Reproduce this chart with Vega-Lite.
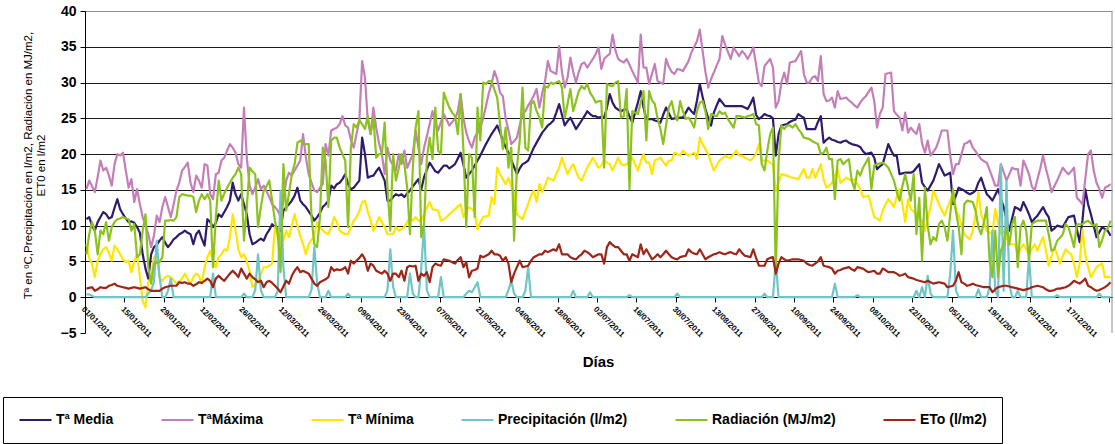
{
"$schema":"https://vega.github.io/schema/vega-lite/v6.json",
"width":1027,"height":322,
"autosize":{"type":"none"},
"padding":{"left":85,"top":11,"right":3,"bottom":111},
"background":"white",
"config":{"font":"Liberation Sans","view":{"stroke":null},"line":{"strokeWidth":2.2,"strokeJoin":"round"}},
"data":{"values":[
{"i":1,"a":10.9,"b":15.1,"c":7.4,"p":0.4,"r":6,"e":1.2},
{"i":2,"a":11.2,"b":16.3,"c":5.5,"p":0.4,"r":8.8,"e":1.3},
{"i":3,"a":10,"b":15.5,"c":4.6,"p":0.2,"r":10.5,"e":1.4},
{"i":4,"a":9.3,"b":14.7,"c":2.8,"p":0,"r":9.3,"e":0.9},
{"i":5,"a":10.5,"b":16.8,"c":5.1,"p":0,"r":6,"e":1.1},
{"i":6,"a":11.2,"b":19.1,"c":6,"p":0,"r":9.3,"e":1.4},
{"i":7,"a":11.9,"b":17.7,"c":6.7,"p":0,"r":8.8,"e":1.3},
{"i":8,"a":11.6,"b":18.1,"c":7,"p":0,"r":10.5,"e":1.3},
{"i":9,"a":11,"b":17,"c":6.2,"p":0,"r":7.9,"e":1.6},
{"i":10,"a":11.2,"b":15.6,"c":5.1,"p":0,"r":9.8,"e":1.7},
{"i":11,"a":12.5,"b":18.6,"c":7.2,"p":0,"r":10.5,"e":1.9},
{"i":12,"a":13.7,"b":20,"c":6.7,"p":0,"r":10.9,"e":1.6},
{"i":13,"a":12.3,"b":19.8,"c":6,"p":0,"r":11,"e":1.5},
{"i":14,"a":11.6,"b":20.2,"c":5.3,"p":0,"r":11.2,"e":1.4},
{"i":15,"a":11,"b":17.7,"c":4.9,"p":0,"r":11,"e":1.3},
{"i":16,"a":10.5,"b":15.3,"c":5.1,"p":0,"r":10.9,"e":1.2},
{"i":17,"a":10.6,"b":16.5,"c":3.5,"p":0,"r":9.3,"e":1.3},
{"i":18,"a":10.4,"b":13.3,"c":5,"p":0,"r":10.2,"e":1.4},
{"i":19,"a":9.8,"b":15.1,"c":6,"p":0,"r":5.6,"e":1.3},
{"i":20,"a":9,"b":13,"c":2.8,"p":0,"r":6,"e":1.2},
{"i":21,"a":6,"b":11.2,"c":-0.5,"p":0,"r":9.3,"e":1.3},
{"i":22,"a":4,"b":10,"c":-1.4,"p":0,"r":11.6,"e":1.4},
{"i":23,"a":2.6,"b":8.8,"c":2.1,"p":0.5,"r":4.2,"e":1.1},
{"i":24,"a":6,"b":7,"c":2.8,"p":1,"r":1.9,"e":0.9},
{"i":25,"a":7,"b":8.6,"c":5.6,"p":2.1,"r":4.7,"e":0.9},
{"i":26,"a":7.3,"b":11.4,"c":5.8,"p":7.9,"r":4.8,"e":0.9},
{"i":27,"a":7.9,"b":10.5,"c":2.8,"p":2.8,"r":4.9,"e":0.9},
{"i":28,"a":8.4,"b":12.6,"c":2.3,"p":0,"r":5.6,"e":1.2},
{"i":29,"a":7.6,"b":14,"c":2.8,"p":0,"r":10.7,"e":1.4},
{"i":30,"a":7,"b":12.6,"c":3,"p":0.9,"r":10.7,"e":1.5},
{"i":31,"a":7.5,"b":11.2,"c":2.8,"p":2.6,"r":10.8,"e":1.6},
{"i":32,"a":8.1,"b":13,"c":2.4,"p":0,"r":10.7,"e":1.6},
{"i":33,"a":8.4,"b":14.9,"c":1.9,"p":0,"r":11.2,"e":1.6},
{"i":34,"a":8.8,"b":16,"c":2.2,"p":0,"r":14,"e":2.1},
{"i":35,"a":9,"b":17.7,"c":2.6,"p":0,"r":14.4,"e":2},
{"i":36,"a":9.3,"b":18.2,"c":3.3,"p":0,"r":14.3,"e":2.1},
{"i":37,"a":9,"b":18.8,"c":2.5,"p":0,"r":14.2,"e":1.9},
{"i":38,"a":8.8,"b":16,"c":1.9,"p":0,"r":14.2,"e":1.9},
{"i":39,"a":7.4,"b":14.7,"c":2.8,"p":0,"r":14,"e":1.6},
{"i":40,"a":8.8,"b":17,"c":3.3,"p":0,"r":11.9,"e":1.8},
{"i":41,"a":9.3,"b":16.3,"c":3,"p":0,"r":13.5,"e":2.1},
{"i":42,"a":8.2,"b":15.3,"c":1.9,"p":0,"r":14.4,"e":2},
{"i":43,"a":7.2,"b":18.6,"c":4.2,"p":0,"r":13.7,"e":2.3},
{"i":44,"a":10.9,"b":18.4,"c":5.6,"p":0,"r":14.4,"e":2.6},
{"i":45,"a":10.5,"b":14.4,"c":6.5,"p":0,"r":13.5,"e":2.3},
{"i":46,"a":9.8,"b":13.7,"c":5,"p":3.3,"r":4.2,"e":1.4},
{"i":47,"a":10.4,"b":17.2,"c":4.2,"p":0,"r":11.2,"e":2.6},
{"i":48,"a":11.6,"b":17.4,"c":5.6,"p":0,"r":16.3,"e":3},
{"i":49,"a":11.2,"b":19.1,"c":6,"p":0,"r":13.5,"e":2.6},
{"i":50,"a":11.9,"b":19.5,"c":6.7,"p":0,"r":14.5,"e":2.3},
{"i":51,"a":12.6,"b":20.5,"c":6.5,"p":0,"r":15.3,"e":2.8},
{"i":52,"a":13.5,"b":21.4,"c":8.4,"p":0,"r":16,"e":3.3},
{"i":53,"a":16,"b":20.9,"c":11.6,"p":0,"r":16.7,"e":3.7},
{"i":54,"a":14.4,"b":20.2,"c":9.3,"p":0,"r":17.2,"e":3.3},
{"i":55,"a":13.5,"b":18.6,"c":6.7,"p":0,"r":18.1,"e":2.8},
{"i":56,"a":14.4,"b":18.1,"c":5.6,"p":0,"r":17.2,"e":4},
{"i":57,"a":13,"b":26.5,"c":6,"p":0.5,"r":7.9,"e":3.3},
{"i":58,"a":11.6,"b":19.5,"c":5,"p":0,"r":12.6,"e":2.6},
{"i":59,"a":8.8,"b":15.6,"c":3.7,"p":0,"r":18.1,"e":3.3},
{"i":60,"a":7.4,"b":14.4,"c":1.4,"p":0,"r":17.6,"e":2.8},
{"i":61,"a":7.6,"b":15.3,"c":1.8,"p":1,"r":17.2,"e":2.5},
{"i":62,"a":7.9,"b":16.5,"c":2.3,"p":6,"r":9.8,"e":2.1},
{"i":63,"a":8.2,"b":15.1,"c":3.2,"p":1,"r":12.6,"e":2.3},
{"i":64,"a":7.9,"b":15.6,"c":4.2,"p":0,"r":14.9,"e":1.4},
{"i":65,"a":8.8,"b":14.8,"c":4.2,"p":0,"r":15.5,"e":2.1},
{"i":66,"a":9.4,"b":14,"c":4.4,"p":0,"r":16.3,"e":2.3},
{"i":67,"a":10.2,"b":13,"c":4.7,"p":0,"r":13.5,"e":2},
{"i":68,"a":9.8,"b":12.6,"c":9.8,"p":0,"r":10.7,"e":1.6},
{"i":69,"a":9.5,"b":12.1,"c":8.4,"p":0.9,"r":8.8,"e":1.2},
{"i":70,"a":9.3,"b":11.2,"c":10.7,"p":14.9,"r":3.5,"e":0.7},
{"i":71,"a":12.1,"b":13.5,"c":7.9,"p":4.2,"r":18.6,"e":1.5},
{"i":72,"a":12.6,"b":16.3,"c":9.3,"p":0,"r":12.1,"e":2.3},
{"i":73,"a":13,"b":17.4,"c":8.4,"p":0,"r":14.5,"e":1.9},
{"i":74,"a":13.5,"b":17,"c":10,"p":0,"r":17.2,"e":3},
{"i":75,"a":14.2,"b":17.7,"c":11.6,"p":0,"r":18.6,"e":3.7},
{"i":76,"a":15.3,"b":18.4,"c":10,"p":0,"r":21.6,"e":4.2},
{"i":77,"a":13.5,"b":19.1,"c":8.6,"p":0,"r":21.9,"e":3.5},
{"i":78,"a":13,"b":22.8,"c":7.4,"p":0,"r":21.4,"e":3.7},
{"i":79,"a":12.6,"b":19.5,"c":6,"p":0,"r":21.4,"e":3.5},
{"i":80,"a":12,"b":17.2,"c":7.4,"p":0,"r":21.4,"e":3.3},
{"i":81,"a":11.4,"b":16,"c":8,"p":1,"r":11.2,"e":2.6},
{"i":82,"a":10.7,"b":14.9,"c":8.6,"p":7,"r":7.4,"e":1.9},
{"i":83,"a":11.2,"b":14.7,"c":10.5,"p":2,"r":7,"e":1.6},
{"i":84,"a":11.8,"b":15.3,"c":9.8,"p":0,"r":11.2,"e":2.1},
{"i":85,"a":12.6,"b":15.8,"c":9.3,"p":0,"r":20.9,"e":2.3},
{"i":86,"a":13,"b":21.4,"c":9,"p":0,"r":19.1,"e":2.5},
{"i":87,"a":13.5,"b":19.8,"c":8.8,"p":0.9,"r":12.6,"e":2.8},
{"i":88,"a":15.6,"b":23.3,"c":9.8,"p":0,"r":21.9,"e":4.2},
{"i":89,"a":15.2,"b":23.5,"c":11.2,"p":0,"r":22.3,"e":3.7},
{"i":90,"a":15.8,"b":23.7,"c":10.5,"p":0,"r":22.3,"e":3.9},
{"i":91,"a":16,"b":24.2,"c":9.3,"p":0,"r":20.9,"e":3.8},
{"i":92,"a":16.5,"b":25.3,"c":9,"p":0,"r":20,"e":3.9},
{"i":93,"a":17.2,"b":24,"c":8.8,"p":0,"r":19.1,"e":4.2},
{"i":94,"a":15.8,"b":23.7,"c":8.8,"p":0.5,"r":9.8,"e":3.3},
{"i":95,"a":15.1,"b":22,"c":9.8,"p":0,"r":20.9,"e":5.1},
{"i":96,"a":15.3,"b":20.9,"c":10.7,"p":0,"r":24.2,"e":4.7},
{"i":97,"a":15.8,"b":22.8,"c":11.2,"p":0,"r":23.7,"e":5.1},
{"i":98,"a":16.3,"b":24.7,"c":12,"p":0,"r":24.7,"e":5.5},
{"i":99,"a":22.3,"b":33,"c":13.3,"p":0,"r":24.2,"e":6},
{"i":100,"a":20,"b":30.7,"c":13.5,"p":0,"r":23.5,"e":5.3},
{"i":101,"a":16.7,"b":24.7,"c":12,"p":0,"r":25.3,"e":3.7},
{"i":102,"a":16.9,"b":22.8,"c":10.7,"p":0,"r":22.8,"e":4.7},
{"i":103,"a":17,"b":26.5,"c":9.3,"p":0,"r":25.1,"e":4.4},
{"i":104,"a":17.6,"b":23.7,"c":10.2,"p":0,"r":19.5,"e":3.7},
{"i":105,"a":18.1,"b":21.5,"c":11.2,"p":0,"r":20,"e":3.5},
{"i":106,"a":17.2,"b":20,"c":10.5,"p":0,"r":20,"e":3.3},
{"i":107,"a":16.3,"b":17.2,"c":9.8,"p":0,"r":24.4,"e":3.7},
{"i":108,"a":13.5,"b":20.9,"c":8.8,"p":1,"r":15.3,"e":3.3},
{"i":109,"a":13.5,"b":19.1,"c":8.8,"p":6.7,"r":9.3,"e":2.3},
{"i":110,"a":14,"b":18.5,"c":8.8,"p":1.5,"r":20,"e":3.3},
{"i":111,"a":14.4,"b":17.7,"c":9.8,"p":0,"r":16.3,"e":3.3},
{"i":112,"a":14.2,"b":20,"c":9.3,"p":0,"r":18,"e":2.8},
{"i":113,"a":14.4,"b":18.6,"c":9.5,"p":0,"r":20,"e":3.7},
{"i":114,"a":14,"b":20.5,"c":9.8,"p":0,"r":18.6,"e":2.3},
{"i":115,"a":14.5,"b":18.1,"c":10.5,"p":0,"r":15.3,"e":4.2},
{"i":116,"a":14.9,"b":19,"c":11.2,"p":3.3,"r":8.8,"e":4.4},
{"i":117,"a":15.5,"b":20,"c":10.7,"p":0.5,"r":18.1,"e":4.3},
{"i":118,"a":16,"b":23.3,"c":11.2,"p":0,"r":23.7,"e":4.4},
{"i":119,"a":16.5,"b":20.9,"c":10.7,"p":0,"r":26,"e":2.3},
{"i":120,"a":15,"b":18.6,"c":10.7,"p":4,"r":8.4,"e":3.3},
{"i":121,"a":16.8,"b":20.9,"c":11.6,"p":10,"r":10.2,"e":3},
{"i":122,"a":17.8,"b":22.5,"c":12.5,"p":1,"r":19.5,"e":3.5},
{"i":123,"a":18.8,"b":24.2,"c":13.3,"p":0,"r":22.3,"e":2.1},
{"i":124,"a":18.2,"b":26,"c":12.3,"p":0,"r":19.3,"e":4.2},
{"i":125,"a":17.6,"b":24.5,"c":12.2,"p":0,"r":26.5,"e":4.7},
{"i":126,"a":17.4,"b":23.3,"c":12.1,"p":0,"r":20.5,"e":4.5},
{"i":127,"a":17.9,"b":24.5,"c":10.7,"p":2.8,"r":20,"e":4.4},
{"i":128,"a":18.4,"b":25.6,"c":10.9,"p":0,"r":28.6,"e":5.3},
{"i":129,"a":18.4,"b":24.8,"c":11.2,"p":0,"r":27.5,"e":5.2},
{"i":130,"a":18,"b":24,"c":11.6,"p":0,"r":26.5,"e":5.1},
{"i":131,"a":18.3,"b":24.5,"c":12,"p":0,"r":25.8,"e":4.9},
{"i":132,"a":18.6,"b":24.9,"c":12.3,"p":0,"r":25.3,"e":4.7},
{"i":133,"a":19.4,"b":26,"c":12.7,"p":0,"r":22.8,"e":5.2},
{"i":134,"a":20.2,"b":28.4,"c":13,"p":0,"r":28.4,"e":5.6},
{"i":135,"a":18.5,"b":25,"c":11.2,"p":0,"r":20.5,"e":4.2},
{"i":136,"a":16.7,"b":23,"c":12,"p":0.5,"r":9.8,"e":4.9},
{"i":137,"a":17.2,"b":21.8,"c":12.6,"p":0.9,"r":20,"e":2.8},
{"i":138,"a":17.7,"b":20.9,"c":12.3,"p":0.7,"r":19.5,"e":3.7},
{"i":139,"a":18.4,"b":22.3,"c":11.9,"p":1.4,"r":11.2,"e":3.8},
{"i":140,"a":19.1,"b":23,"c":9.5,"p":2.1,"r":26.5,"e":4},
{"i":141,"a":19.8,"b":23.7,"c":10.5,"p":0,"r":21.9,"e":5.8},
{"i":142,"a":20.6,"b":25,"c":11.2,"p":0,"r":30,"e":5.6},
{"i":143,"a":21.4,"b":26.7,"c":11.3,"p":0,"r":29.8,"e":5.8},
{"i":144,"a":22.1,"b":28.5,"c":11.4,"p":0,"r":30.2,"e":6},
{"i":145,"a":22.8,"b":29.8,"c":14,"p":0,"r":30.2,"e":6.5},
{"i":146,"a":23.4,"b":31.6,"c":13,"p":0,"r":29,"e":6},
{"i":147,"a":24,"b":30.5,"c":18.1,"p":0,"r":27.9,"e":6},
{"i":148,"a":23,"b":28.6,"c":17.2,"p":0,"r":24.2,"e":5.8},
{"i":149,"a":21.9,"b":28.1,"c":16.5,"p":0,"r":20.7,"e":5.1},
{"i":150,"a":21,"b":25,"c":15.8,"p":0,"r":23.7,"e":5.6},
{"i":151,"a":20.2,"b":23.3,"c":16.7,"p":1,"r":18.1,"e":4.7},
{"i":152,"a":19.2,"b":21.4,"c":15.5,"p":2.3,"r":20.9,"e":2.1},
{"i":153,"a":18.2,"b":21.8,"c":14.4,"p":0.5,"r":7.9,"e":3.3},
{"i":154,"a":17.2,"b":22.3,"c":11.6,"p":0,"r":18.1,"e":4.2},
{"i":155,"a":18,"b":24,"c":11.2,"p":0,"r":21.9,"e":5.1},
{"i":156,"a":18.6,"b":25.6,"c":10.9,"p":0,"r":29.3,"e":4.2},
{"i":157,"a":18.8,"b":26,"c":12,"p":0.9,"r":20.9,"e":4.3},
{"i":158,"a":19.1,"b":26.8,"c":13,"p":4.2,"r":20.5,"e":4.4},
{"i":159,"a":20,"b":27.4,"c":14.2,"p":0,"r":27,"e":5.1},
{"i":160,"a":20.9,"b":28.2,"c":14.9,"p":0,"r":27.4,"e":5.6},
{"i":161,"a":21.6,"b":29.1,"c":13.3,"p":0,"r":26,"e":5.8},
{"i":162,"a":22.3,"b":26.5,"c":15.8,"p":0,"r":25.1,"e":6},
{"i":163,"a":23,"b":28.5,"c":14.7,"p":0,"r":23.7,"e":6},
{"i":164,"a":23.5,"b":30.2,"c":15.6,"p":0,"r":29.5,"e":6.5},
{"i":165,"a":24,"b":33,"c":16.7,"p":0,"r":29.3,"e":6.3},
{"i":166,"a":24.3,"b":31.6,"c":16.5,"p":0,"r":30,"e":6.5},
{"i":167,"a":24.7,"b":31.4,"c":16.3,"p":0,"r":29.8,"e":6.7},
{"i":168,"a":25.8,"b":31.2,"c":17.2,"p":0,"r":30,"e":6.5},
{"i":169,"a":27,"b":35.1,"c":18.1,"p":0,"r":30.2,"e":7.4},
{"i":170,"a":25.5,"b":31.5,"c":19.5,"p":0,"r":29.3,"e":6},
{"i":171,"a":24,"b":29.3,"c":18.3,"p":0,"r":25.1,"e":6},
{"i":172,"a":24.6,"b":30.7,"c":17.2,"p":0,"r":27,"e":6},
{"i":173,"a":25.1,"b":33.5,"c":18,"p":0,"r":29.1,"e":5.6},
{"i":174,"a":24.3,"b":31.5,"c":18.6,"p":0.9,"r":26,"e":5.4},
{"i":175,"a":23.5,"b":30,"c":17.6,"p":0,"r":27.4,"e":5.3},
{"i":176,"a":24.1,"b":31.5,"c":16.7,"p":0,"r":28.8,"e":5.7},
{"i":177,"a":24.7,"b":32.6,"c":16.3,"p":0,"r":29.5,"e":6},
{"i":178,"a":25.3,"b":32.8,"c":17.2,"p":0,"r":29.1,"e":6.5},
{"i":179,"a":26,"b":32.1,"c":18.1,"p":0,"r":29.8,"e":6.3},
{"i":180,"a":25.6,"b":32.7,"c":18.8,"p":0.7,"r":28.6,"e":6},
{"i":181,"a":25.3,"b":33.3,"c":19.5,"p":0,"r":28,"e":5.6},
{"i":182,"a":25.3,"b":34,"c":18.8,"p":0,"r":27.2,"e":5.8},
{"i":183,"a":25.1,"b":34.9,"c":18.1,"p":0,"r":27.4,"e":6},
{"i":184,"a":25.2,"b":31.9,"c":18.4,"p":0,"r":27.4,"e":6},
{"i":185,"a":25.1,"b":33.3,"c":19.1,"p":0,"r":18.1,"e":4.7},
{"i":186,"a":26.5,"b":33.7,"c":18.8,"p":0,"r":29.8,"e":7},
{"i":187,"a":28.4,"b":34,"c":18.6,"p":0,"r":29.6,"e":7.7},
{"i":188,"a":27.2,"b":36.7,"c":17.7,"p":0,"r":29.5,"e":7.3},
{"i":189,"a":26.5,"b":34.5,"c":18.6,"p":0,"r":30,"e":7},
{"i":190,"a":26.2,"b":33.3,"c":19.5,"p":0,"r":30.2,"e":7},
{"i":191,"a":26,"b":33,"c":18.6,"p":0,"r":25.1,"e":6.5},
{"i":192,"a":26.2,"b":32.8,"c":18.4,"p":0,"r":25.3,"e":6},
{"i":193,"a":26.3,"b":33.3,"c":18.6,"p":0,"r":29.1,"e":6},
{"i":194,"a":25.3,"b":32.5,"c":19,"p":0.3,"r":15.1,"e":5.1},
{"i":195,"a":24.4,"b":31.6,"c":19.5,"p":0,"r":26,"e":6},
{"i":196,"a":25.8,"b":30.8,"c":18.6,"p":0,"r":25.8,"e":5.8},
{"i":197,"a":27.2,"b":30,"c":17.7,"p":0,"r":25.6,"e":5.6},
{"i":198,"a":28.8,"b":36.7,"c":19,"p":0,"r":27.2,"e":7.4},
{"i":199,"a":26.5,"b":32.1,"c":20,"p":0,"r":28.8,"e":6},
{"i":200,"a":24.9,"b":32.1,"c":18.8,"p":0,"r":21.9,"e":6.7},
{"i":201,"a":24.9,"b":29.8,"c":18.8,"p":0,"r":28.8,"e":6},
{"i":202,"a":24.9,"b":31.2,"c":17.2,"p":0,"r":27.5,"e":5.3},
{"i":203,"a":24.7,"b":32.6,"c":19.1,"p":0,"r":27,"e":5.6},
{"i":204,"a":24.6,"b":30.2,"c":19.3,"p":0,"r":25,"e":6},
{"i":205,"a":24.4,"b":30,"c":19.5,"p":0,"r":23.5,"e":5.6},
{"i":206,"a":25.5,"b":29.8,"c":18.9,"p":0,"r":21.4,"e":6},
{"i":207,"a":26.5,"b":33.3,"c":18.4,"p":0,"r":24,"e":6.5},
{"i":208,"a":25.7,"b":32.2,"c":19.1,"p":0,"r":26.5,"e":6},
{"i":209,"a":24.9,"b":31.5,"c":19.1,"p":0,"r":27.4,"e":5.6},
{"i":210,"a":25,"b":31.2,"c":20.2,"p":0,"r":25.6,"e":5.4},
{"i":211,"a":25,"b":31.9,"c":20,"p":0.5,"r":24.7,"e":5.3},
{"i":212,"a":25.1,"b":31.8,"c":19.8,"p":0,"r":27.4,"e":5.6},
{"i":213,"a":25.1,"b":31.6,"c":20.5,"p":0,"r":26,"e":5.7},
{"i":214,"a":25.8,"b":32.3,"c":20.1,"p":0,"r":24.9,"e":5.8},
{"i":215,"a":26.5,"b":33,"c":19.8,"p":0,"r":25.1,"e":6.7},
{"i":216,"a":26,"b":34.2,"c":20,"p":0,"r":24.5,"e":6.3},
{"i":217,"a":25.6,"b":35,"c":20.2,"p":0,"r":23.7,"e":6.1},
{"i":218,"a":27.5,"b":35.8,"c":19.3,"p":0,"r":26,"e":6},
{"i":219,"a":29.8,"b":37.4,"c":22.3,"p":0,"r":27.2,"e":6.7},
{"i":220,"a":28,"b":34.4,"c":21.4,"p":0,"r":27.4,"e":6},
{"i":221,"a":26.3,"b":31.5,"c":20.7,"p":0,"r":26,"e":5.3},
{"i":222,"a":25,"b":29.3,"c":20,"p":0,"r":23.5,"e":5.6},
{"i":223,"a":24,"b":30.5,"c":18.8,"p":0,"r":25.6,"e":5.8},
{"i":224,"a":25.8,"b":31.4,"c":17.7,"p":0,"r":25.4,"e":6},
{"i":225,"a":26.8,"b":32.4,"c":18.4,"p":0,"r":25.3,"e":6.1},
{"i":226,"a":27.7,"b":33.3,"c":19.1,"p":0,"r":26,"e":6.3},
{"i":227,"a":27.2,"b":36.5,"c":19.4,"p":0,"r":25.6,"e":6.1},
{"i":228,"a":26.7,"b":35.3,"c":19.8,"p":0,"r":25.8,"e":6},
{"i":229,"a":26.7,"b":34.3,"c":19.5,"p":0,"r":24.9,"e":6.2},
{"i":230,"a":26.7,"b":33.3,"c":19.5,"p":0,"r":24.3,"e":6.3},
{"i":231,"a":26.7,"b":34.9,"c":20,"p":0,"r":23.7,"e":6.1},
{"i":232,"a":26.7,"b":34.3,"c":20.5,"p":0,"r":25.3,"e":6},
{"i":233,"a":26.7,"b":33.7,"c":19.8,"p":0,"r":25.3,"e":6.7},
{"i":234,"a":26.7,"b":34.4,"c":19.8,"p":0,"r":25.2,"e":6.2},
{"i":235,"a":26.5,"b":34,"c":19.5,"p":0,"r":25.1,"e":5.8},
{"i":236,"a":26.3,"b":33.3,"c":19.3,"p":0,"r":25.3,"e":5.7},
{"i":237,"a":27,"b":34,"c":19.1,"p":0,"r":25.4,"e":5.6},
{"i":238,"a":27.9,"b":34.9,"c":19.5,"p":0,"r":25.6,"e":6.7},
{"i":239,"a":25.5,"b":32.5,"c":20,"p":0,"r":24.2,"e":5.5},
{"i":240,"a":24.9,"b":30,"c":21.4,"p":0,"r":24,"e":4.4},
{"i":241,"a":25.2,"b":29.5,"c":19.1,"p":0,"r":18.6,"e":4.4},
{"i":242,"a":25.6,"b":32.3,"c":19.1,"p":0.5,"r":17.7,"e":4.4},
{"i":243,"a":25.4,"b":32.8,"c":19.1,"p":0,"r":20.5,"e":5.3},
{"i":244,"a":25.3,"b":33.3,"c":18.8,"p":0,"r":22.8,"e":5.5},
{"i":245,"a":25,"b":32.1,"c":18.6,"p":0,"r":23.7,"e":5.6},
{"i":246,"a":19.8,"b":26.5,"c":14.9,"p":5,"r":3.3,"e":3.3},
{"i":247,"a":22.8,"b":27.4,"c":16,"p":0,"r":19.1,"e":4.7},
{"i":248,"a":24,"b":30,"c":17.2,"p":0,"r":24,"e":5.6},
{"i":249,"a":24.1,"b":31.4,"c":17.1,"p":0,"r":23.5,"e":5.3},
{"i":250,"a":24.2,"b":29.8,"c":17,"p":0,"r":24,"e":5.1},
{"i":251,"a":24.5,"b":32.8,"c":16.8,"p":0,"r":24,"e":5.2},
{"i":252,"a":24.7,"b":32.9,"c":16.7,"p":0,"r":23.7,"e":5.3},
{"i":253,"a":24.8,"b":33,"c":16.6,"p":0,"r":24.2,"e":5.3},
{"i":254,"a":25.6,"b":33.7,"c":16.5,"p":0,"r":23.5,"e":5.3},
{"i":255,"a":25.3,"b":34.4,"c":17.2,"p":0,"r":23,"e":5.2},
{"i":256,"a":25.1,"b":31.2,"c":17.9,"p":0,"r":22.3,"e":5.1},
{"i":257,"a":23.5,"b":30,"c":16.7,"p":0,"r":22.2,"e":4.7},
{"i":258,"a":23.5,"b":30,"c":16.7,"p":0,"r":22.1,"e":4.5},
{"i":259,"a":23.5,"b":30.7,"c":17.9,"p":0,"r":21.8,"e":4.4},
{"i":260,"a":23.5,"b":30.9,"c":16.7,"p":0,"r":21.6,"e":4.7},
{"i":261,"a":24.5,"b":30.2,"c":17.6,"p":0,"r":21.4,"e":5},
{"i":262,"a":25.3,"b":33.7,"c":18.6,"p":0,"r":20,"e":5.6},
{"i":263,"a":21.6,"b":28.4,"c":16.5,"p":0,"r":20.2,"e":4.4},
{"i":264,"a":22,"b":27.4,"c":15.3,"p":0,"r":20.9,"e":4.3},
{"i":265,"a":22.3,"b":27.5,"c":15.6,"p":0,"r":19.3,"e":4.2},
{"i":266,"a":22,"b":27.9,"c":16,"p":0,"r":19.3,"e":4},
{"i":267,"a":21.9,"b":26.5,"c":17,"p":1.9,"r":13.7,"e":3.3},
{"i":268,"a":21.7,"b":28.8,"c":17.9,"p":0,"r":19.1,"e":3.7},
{"i":269,"a":21.6,"b":27.7,"c":16,"p":0,"r":19.3,"e":3.8},
{"i":270,"a":21.8,"b":27.8,"c":16.3,"p":0,"r":18.6,"e":4},
{"i":271,"a":21.9,"b":27.9,"c":16.7,"p":0,"r":19,"e":4.1},
{"i":272,"a":21.6,"b":27.5,"c":16.5,"p":0,"r":19.3,"e":4.2},
{"i":273,"a":21.4,"b":27.2,"c":16.3,"p":0,"r":16.3,"e":3.9},
{"i":274,"a":21.3,"b":26.8,"c":16.5,"p":0,"r":15.1,"e":3.7},
{"i":275,"a":21.2,"b":26.5,"c":15.8,"p":0.3,"r":17.7,"e":4.2},
{"i":276,"a":21,"b":27.2,"c":15.1,"p":0,"r":17,"e":4.1},
{"i":277,"a":20.4,"b":27.7,"c":14,"p":0,"r":18.1,"e":4},
{"i":278,"a":20,"b":28.1,"c":14.1,"p":0,"r":18.8,"e":3.7},
{"i":279,"a":20.1,"b":28.7,"c":14.2,"p":0,"r":19.5,"e":3.5},
{"i":280,"a":20.2,"b":29.3,"c":12.7,"p":0,"r":15.1,"e":3.6},
{"i":281,"a":19.5,"b":27.4,"c":11.2,"p":0,"r":18.4,"e":3.7},
{"i":282,"a":17.9,"b":23.7,"c":11,"p":0,"r":18.6,"e":3.3},
{"i":283,"a":18.3,"b":25.6,"c":10.7,"p":0,"r":18.7,"e":3.3},
{"i":284,"a":18.6,"b":26.5,"c":12.1,"p":0,"r":18.8,"e":4},
{"i":285,"a":20,"b":31.2,"c":13,"p":0,"r":18.5,"e":3.8},
{"i":286,"a":21.4,"b":31.3,"c":13.7,"p":0,"r":18.1,"e":3.5},
{"i":287,"a":20.5,"b":31.4,"c":13.2,"p":0,"r":17.2,"e":3.5},
{"i":288,"a":19.8,"b":26,"c":12.6,"p":0,"r":16.3,"e":3.5},
{"i":289,"a":19.8,"b":25.5,"c":14,"p":0,"r":14.7,"e":3.3},
{"i":290,"a":17.2,"b":25.1,"c":15.1,"p":0,"r":13.5,"e":3},
{"i":291,"a":17.3,"b":23.3,"c":13,"p":0,"r":15.5,"e":3.1},
{"i":292,"a":17.4,"b":25.8,"c":10.5,"p":0,"r":17.2,"e":3.3},
{"i":293,"a":17.4,"b":23,"c":13.7,"p":0,"r":15.3,"e":2.8},
{"i":294,"a":17.4,"b":23.7,"c":12.3,"p":0,"r":13.5,"e":2.7},
{"i":295,"a":17.6,"b":23.2,"c":12,"p":0,"r":17.2,"e":2.6},
{"i":296,"a":18.1,"b":22.8,"c":11.6,"p":0.9,"r":8.8,"e":2.4},
{"i":297,"a":18.6,"b":24.2,"c":11.2,"p":0,"r":13.9,"e":2.3},
{"i":298,"a":16,"b":21.5,"c":10.7,"p":1.4,"r":5.1,"e":2.2},
{"i":299,"a":15.4,"b":20.2,"c":9.3,"p":0,"r":15.3,"e":2.1},
{"i":300,"a":14.9,"b":21.9,"c":11,"p":3,"r":10,"e":2.3},
{"i":301,"a":15.6,"b":19.8,"c":12.6,"p":0.5,"r":7.4,"e":2.1},
{"i":302,"a":16.3,"b":20.3,"c":14.9,"p":0,"r":8.4,"e":1.9},
{"i":303,"a":17.4,"b":20.9,"c":14,"p":0,"r":7.9,"e":2},
{"i":304,"a":18.6,"b":22,"c":13,"p":0,"r":10.2,"e":2.1},
{"i":305,"a":17.8,"b":23.3,"c":12.2,"p":0,"r":10.7,"e":2},
{"i":306,"a":17,"b":23.3,"c":11.4,"p":0,"r":9.8,"e":1.9},
{"i":307,"a":17.2,"b":23.3,"c":12.5,"p":0,"r":7.9,"e":1.4},
{"i":308,"a":17.4,"b":19.8,"c":13.5,"p":3.3,"r":11.6,"e":1.5},
{"i":309,"a":13,"b":17.2,"c":14.7,"p":9.3,"r":15.1,"e":1.6},
{"i":310,"a":14.2,"b":18.6,"c":12.3,"p":1,"r":12,"e":2.3},
{"i":311,"a":15.3,"b":18.6,"c":11.4,"p":0,"r":9.8,"e":3.5},
{"i":312,"a":15.1,"b":20,"c":10,"p":0,"r":6,"e":2.1},
{"i":313,"a":14.9,"b":21.4,"c":8.8,"p":0,"r":13,"e":1.9},
{"i":314,"a":14.6,"b":21.6,"c":8.4,"p":0,"r":13.5,"e":1.6},
{"i":315,"a":14.4,"b":21.9,"c":8.1,"p":0,"r":13.4,"e":1.7},
{"i":316,"a":14.6,"b":20.9,"c":9.3,"p":0,"r":13.3,"e":1.9},
{"i":317,"a":14.9,"b":20.4,"c":11.5,"p":0,"r":12.1,"e":1.7},
{"i":318,"a":16,"b":19.8,"c":14.7,"p":1.1,"r":9.8,"e":1.6},
{"i":319,"a":16.7,"b":19.3,"c":11.6,"p":0,"r":8.8,"e":1.5},
{"i":320,"a":15.5,"b":19,"c":10.5,"p":0,"r":10.5,"e":1.4},
{"i":321,"a":14.4,"b":18.8,"c":9.3,"p":0,"r":12.6,"e":1.4},
{"i":322,"a":14,"b":17.8,"c":9,"p":1.4,"r":5.1,"e":1.4},
{"i":323,"a":13.5,"b":16.7,"c":8.8,"p":9.3,"r":2.8,"e":0.7},
{"i":324,"a":14.3,"b":15.6,"c":12.3,"p":1,"r":9.3,"e":1.1},
{"i":325,"a":15.1,"b":15.6,"c":10.5,"p":0,"r":2.8,"e":1.4},
{"i":326,"a":13.8,"b":18.6,"c":8.8,"p":18.6,"r":6.5,"e":1.5},
{"i":327,"a":12.6,"b":17.5,"c":9.3,"p":0.9,"r":7.5,"e":1.6},
{"i":328,"a":10.9,"b":16.3,"c":8.3,"p":16.3,"r":9.8,"e":1.6},
{"i":329,"a":9.3,"b":17.2,"c":7.4,"p":1.9,"r":7.4,"e":1.5},
{"i":330,"a":11,"b":18.1,"c":7.4,"p":0,"r":10.2,"e":1.4},
{"i":331,"a":12.6,"b":17.9,"c":7.4,"p":0,"r":11.2,"e":1.3},
{"i":332,"a":12.4,"b":17.9,"c":6,"p":0.9,"r":4.2,"e":1.2},
{"i":333,"a":12.1,"b":15.6,"c":6.7,"p":0,"r":9.8,"e":1.1},
{"i":334,"a":13.3,"b":19.1,"c":7.4,"p":0,"r":10.7,"e":1},
{"i":335,"a":12.5,"b":18.2,"c":6.7,"p":0,"r":9.3,"e":1.1},
{"i":336,"a":11.6,"b":17.2,"c":6,"p":5.6,"r":5.1,"e":1.2},
{"i":337,"a":10.5,"b":15.5,"c":6.7,"p":0,"r":10.2,"e":1.4},
{"i":338,"a":11,"b":14.9,"c":7.4,"p":0,"r":10.5,"e":1.5},
{"i":339,"a":11.4,"b":16.5,"c":6.5,"p":0,"r":10.7,"e":1.6},
{"i":340,"a":12,"b":18,"c":7.5,"p":0,"r":10.7,"e":1.5},
{"i":341,"a":12.6,"b":19.8,"c":8.4,"p":0,"r":10.7,"e":1.4},
{"i":342,"a":11.8,"b":18,"c":6.5,"p":0,"r":10.7,"e":1.1},
{"i":343,"a":11.2,"b":16.5,"c":4.4,"p":0,"r":8.8,"e":0.9},
{"i":344,"a":9.3,"b":14.7,"c":5.7,"p":0,"r":6.5,"e":0.9},
{"i":345,"a":9.6,"b":15.5,"c":7,"p":0,"r":6.7,"e":1},
{"i":346,"a":10,"b":16.3,"c":6,"p":0.3,"r":7.9,"e":1.2},
{"i":347,"a":9.9,"b":17.2,"c":4.7,"p":0,"r":8.3,"e":1.2},
{"i":348,"a":9.8,"b":18.1,"c":5.7,"p":0,"r":8.8,"e":1.3},
{"i":349,"a":10.5,"b":17.6,"c":6.7,"p":0,"r":10.2,"e":1.4},
{"i":350,"a":11.2,"b":17.2,"c":6.3,"p":0,"r":9.8,"e":1.6},
{"i":351,"a":11.3,"b":17.6,"c":6,"p":0,"r":8.5,"e":1.9},
{"i":352,"a":11.4,"b":18.1,"c":4.7,"p":0,"r":7,"e":2.3},
{"i":353,"a":9.5,"b":13.9,"c":2.8,"p":0,"r":10.2,"e":2.1},
{"i":354,"a":7.7,"b":13.5,"c":4.7,"p":0,"r":10.2,"e":1.9},
{"i":355,"a":10.7,"b":13,"c":9.5,"p":0,"r":10.2,"e":2.2},
{"i":356,"a":15.1,"b":16.5,"c":6,"p":0,"r":10.5,"e":2.6},
{"i":357,"a":13,"b":20,"c":4.2,"p":0,"r":10.7,"e":1.6},
{"i":358,"a":11.6,"b":20.5,"c":2.8,"p":0,"r":10.3,"e":1.4},
{"i":359,"a":10,"b":17.7,"c":3.5,"p":0,"r":10,"e":1.1},
{"i":360,"a":8.4,"b":16,"c":4.2,"p":0,"r":10.2,"e":0.9},
{"i":361,"a":9.1,"b":15.1,"c":4.5,"p":0.5,"r":7,"e":1},
{"i":362,"a":9.8,"b":13.9,"c":4.7,"p":0,"r":8,"e":1.2},
{"i":363,"a":9.5,"b":15.3,"c":2.8,"p":0,"r":9.3,"e":1.4},
{"i":364,"a":9.3,"b":15.5,"c":2.8,"p":0,"r":9.6,"e":1.7},
{"i":365,"a":8.6,"b":15.8,"c":2.8,"p":0,"r":10.7,"e":2.1}
]},
"layer":[
{"mark":{"type":"line"},
 "encoding":{
  "x":{"field":"i","type":"quantitative","scale":{"domain":[0.5,365.5],"nice":false,"zero":false},
   "axis":{"values":[0.5,14.5,28.5,42.5,56.5,70.5,84.5,98.5,112.5,126.5,140.5,154.5,168.5,182.5,196.5,210.5,224.5,238.5,252.5,266.5,280.5,294.5,308.5,322.5,336.5,350.5,364.5],
    "tickCount":40,
    "labelExpr":"datum.value > 360 ? '' : timeFormat(datetime(2011,0,datum.value+0.5),'%d/%m/%Y')",
    "labelAngle":45,"labelAlign":"left","labelBaseline":"top","labelFontSize":8,"labelFontWeight":"bold","labelColor":"#000","labelPadding":3,"labelDx":2,"labelOverlap":false,"labelBound":false,"labelFlush":false,
    "tickSize":5,"tickColor":"#000","domainColor":"#000","offset":-36,"grid":false,
    "title":"Días","titleFontSize":15,"titleFontWeight":"bold","titleColor":"#000","titleX":513,"titleY":64,"titleBaseline":"middle","titleAlign":"center"}},
  "y":{"field":"a","type":"quantitative","scale":{"domain":[-5,40],"nice":false,"zero":false},
   "axis":{"values":[-5,0,5,10,15,20,25,30,35,40],"tickCount":15,"labelOverlap":false,
    "title":["Tª en ºC,Precipitación en l/m2, Radiación en MJ/m2,","ET0 en l/m2"],
    "titleFontSize":11.5,"titleFontWeight":"normal","titleColor":"#000","titleAngle":-90,"titleAlign":"center","titleBaseline":"top","titleX":-63,"titleY":154,"titleLineHeight":13,
    "labelFontSize":14,"labelFontWeight":"bold","labelColor":"#000","labelPadding":4,"tickSize":5,"tickColor":"#000","domainColor":"#000",
    "grid":true,"gridWidth":1,
    "gridColor":{"condition":{"test":"datum.value == 40","value":"#8c8c8c"},"value":"#1a1a1a"},
    "gridOpacity":{"condition":{"test":"datum.value == -5","value":0},"value":1}}},
  "color":{"datum":"Tª Media","type":"nominal",
   "scale":{"domain":["Tª Media","TªMáxima","Tª Mínima","Precipitación (l/m2)","Radiación (MJ/m2)","ETo (l/m2)"],
            "range":["#2f1b6e","#c47fb9","#ffe600","#72c5c7","#8cc21f","#9e2519"]},
   "legend":{"orient":"none","legendX":-82,"legendY":386,"direction":"horizontal","columns":6,"title":null,
    "symbolType":"stroke","symbolSize":1024,"symbolStrokeWidth":3,"labelFontSize":14,"labelFontWeight":"bold","labelColor":"#000","labelOffset":3,"labelLimit":300,
    "clipHeight":16,"columnPadding":46,"strokeColor":"#000","fillColor":"#fff","padding":15}}}},
{"mark":{"type":"line"},"encoding":{"x":{"field":"i","type":"quantitative"},"y":{"field":"b","type":"quantitative"},"color":{"datum":"TªMáxima","type":"nominal"}}},
{"mark":{"type":"line"},"encoding":{"x":{"field":"i","type":"quantitative"},"y":{"field":"c","type":"quantitative"},"color":{"datum":"Tª Mínima","type":"nominal"}}},
{"mark":{"type":"line"},"encoding":{"x":{"field":"i","type":"quantitative"},"y":{"field":"p","type":"quantitative"},"color":{"datum":"Precipitación (l/m2)","type":"nominal"}}},
{"mark":{"type":"line"},"encoding":{"x":{"field":"i","type":"quantitative"},"y":{"field":"r","type":"quantitative"},"color":{"datum":"Radiación (MJ/m2)","type":"nominal"}}},
{"mark":{"type":"line"},"encoding":{"x":{"field":"i","type":"quantitative"},"y":{"field":"e","type":"quantitative"},"color":{"datum":"ETo (l/m2)","type":"nominal"}}},
{"data":{"values":[{}]},"mark":{"type":"rule","color":"#8c8c8c","strokeWidth":1},"encoding":{"x":{"datum":365.5,"type":"quantitative"}}}
]
}
